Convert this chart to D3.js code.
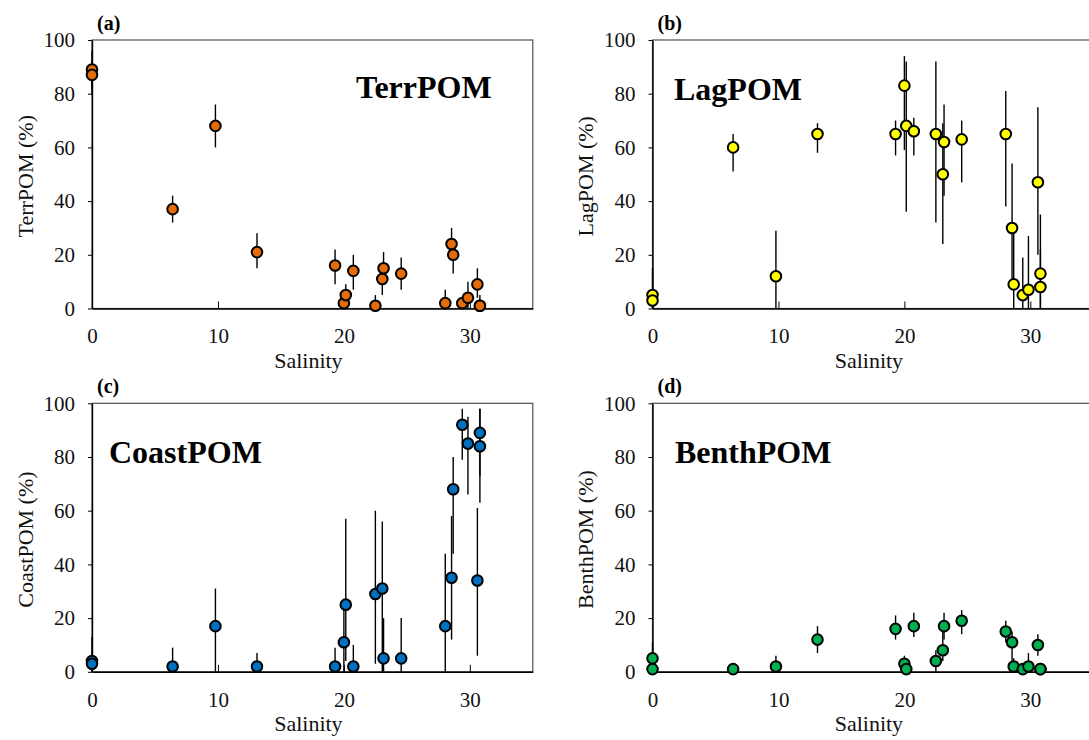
<!DOCTYPE html>
<html>
<head>
<meta charset="utf-8">
<script src="https://cdn.jsdelivr.net/npm/d3@7"></script>
<style>
html, body { margin: 0; padding: 0; background: #fff; overflow: hidden; }
svg { display: block; }
</style>
</head>
<body>
<svg id="chart" width="1089" height="740" font-family="'Liberation Serif', 'Times New Roman', serif"></svg>
<script>
// ---- data ----
const salinity = [0, 0, 6.4, 9.8, 13.1, 19.3, 20.0, 20.15, 20.75, 22.5, 23.05, 23.15, 24.55, 28.05, 28.55, 28.68, 29.4, 29.85, 30.6, 30.8, 30.8];

const terrPOM   = [89, 87, 37, 68, 21, 16, 2, 5, 14, 1, 11, 15, 13, 2, 24, 20, 2, 4, 9, 1, 1];
const terrLo    = [80, 82, 32, 60, 15, 9, 0, 2, 7, 0, 5, 9, 7, 0, 18, 13, 0, 0, 4, 0, 0];
const terrHi    = [96, 92, 42, 76, 28, 22, 4, 9, 20, 5, 17, 21, 19, 7, 30, 26, 4, 10, 15, 5, 3];

const lagPOM    = [5, 3, 60, 12, 65, 65, 83, 68, 66, 65, 50, 62, 63, 65, 30, 9, 5, 7, 47, 13, 8];
const lagLo     = [0, 0, 51, 0, 58, 57, 59, 36, 57, 32, 24, 42, 47, 38, 10, 0, 0, 0, 20, 0, 0];
const lagHi     = [15, 6, 65, 29, 69, 70, 94, 92, 71, 92, 69, 76, 70, 81, 54, 32, 19, 27, 75, 35, 22];

const coastPOM  = [4, 3, 2, 17, 2, 2, 11, 25, 2, 29, 31, 5, 5, 17, 35, 68, 92, 85, 34, 84, 89];
const coastLo   = [0, 0, 0, 0, 0, 0, 0, 4, 0, 3, 0, 0, 0, 0, 12, 44, 79, 66, 6, 63, 73];
const coastHi   = [13, 6, 9, 31, 7, 9, 27, 57, 10, 60, 56, 20, 20, 44, 58, 80, 98, 95, 61, 98, 98];

const benthPOM  = [5, 1, 1, 2, 12, 16, 3, 1, 17, 4, 8, 17, 19, 15, 11, 2, 1, 2, 10, 1, 1];
const benthLo   = [0, 0, 0, 0, 7, 12, 0, 0, 13, 0, 4, 12, 14, 11, 2, 0, 0, 0, 6, 0, 0];
const benthHi   = [11, 3, 3, 6, 17, 21, 6, 3, 22, 8, 15, 22, 23, 19, 15, 5, 3, 7, 14, 3, 3];

const xTicks = [0, 10, 20, 30];
const yTicks = [0, 20, 40, 60, 80, 100];
const panelNames = ["TerrPOM", "LagPOM", "CoastPOM", "BenthPOM"];
const panelLetters = ["(a)", "(b)", "(c)", "(d)"];
const xTitle = "Salinity";

// ---- layout ----
const FONT = "'Liberation Serif', 'Times New Roman', serif";
const svg = d3.select("#chart");
const panels = [
  { name: panelNames[0], letter: panelLetters[0], vals: terrPOM,  lo: terrLo,  hi: terrHi,  color: "#E46C0A", x0: 92,    y0: 40,    label: { x: 356, y: 87 } },
  { name: panelNames[1], letter: panelLetters[1], vals: lagPOM,   lo: lagLo,   hi: lagHi,   color: "#FFFF00", x0: 652.5, y0: 40,    label: { x: 674, y: 89 } },
  { name: panelNames[2], letter: panelLetters[2], vals: coastPOM, lo: coastLo, hi: coastHi, color: "#0070C0", x0: 92,    y0: 403.3, label: { x: 109, y: 452 } },
  { name: panelNames[3], letter: panelLetters[3], vals: benthPOM, lo: benthLo, hi: benthHi, color: "#00B050", x0: 652.5, y0: 403.3, label: { x: 675, y: 452 } }
];
const W = 440.8, H = 268.5;

panels.forEach(p => {
  const g = svg.append("g").attr("transform", `translate(${p.x0},${p.y0})`);
  const x = d3.scaleLinear().domain([0, 35]).range([0, W]);
  const y = d3.scaleLinear().domain([0, 100]).range([H, 0]);

  // frame (top/right)
  g.append("rect").attr("x", 0).attr("y", 0).attr("width", W).attr("height", H)
    .attr("fill", "none").attr("stroke", "#505050").attr("stroke-width", 1.2);

  // y axis
  const ya = g.append("g").call(d3.axisLeft(y).tickValues(yTicks).tickSizeInner(4).tickSizeOuter(0).tickPadding(13))
    .attr("font-family", FONT).attr("font-size", 21);
  ya.select(".domain").attr("stroke", "#000").attr("stroke-width", 1.4);
  ya.selectAll(".tick line").attr("stroke", "#000").attr("stroke-width", 1);
  ya.selectAll(".tick text").attr("fill", "#111");

  // x axis with inward ticks
  const xa = g.append("g").attr("transform", `translate(0,${H})`)
    .call(d3.axisBottom(x).tickValues(xTicks).tickSizeInner(-7).tickSizeOuter(0).tickPadding(20))
    .attr("font-family", FONT).attr("font-size", 21);
  xa.select(".domain").attr("stroke", "#000").attr("stroke-width", 1.4);
  xa.selectAll(".tick line").attr("stroke", "#000").attr("stroke-width", 1);
  xa.selectAll(".tick text").attr("fill", "#111");

  // axis titles
  g.append("text").attr("x", W / 2 - 4).attr("y", H + 52).attr("dy", "0.35em")
    .attr("text-anchor", "middle").attr("font-size", 22).attr("fill", "#111").text(xTitle);
  g.append("text").attr("transform", `translate(-67,${H / 2 + 2}) rotate(-90)`).attr("dy", "0.35em")
    .attr("text-anchor", "middle").attr("font-size", 22).attr("fill", "#111").text(p.name + " (%)");

  // panel letter
  g.append("text").attr("x", 5).attr("y", -10).attr("font-size", 20).attr("font-weight", "bold")
    .attr("fill", "#000").text(p.letter);

  // big series label
  svg.append("text").attr("x", p.label.x).attr("y", p.label.y).attr("dy", "0.35em")
    .attr("font-size", 32).attr("font-weight", "bold").attr("fill", "#000").text(p.name);

  const idx = d3.range(salinity.length);
  // error bars
  g.append("g").selectAll("line").data(idx).join("line")
    .attr("x1", i => x(salinity[i])).attr("x2", i => x(salinity[i]))
    .attr("y1", i => y(p.lo[i])).attr("y2", i => y(p.hi[i]))
    .attr("stroke", "#000").attr("stroke-width", 1.4);
  // points
  g.append("g").selectAll("circle").data(idx).join("circle")
    .attr("cx", i => x(salinity[i])).attr("cy", i => y(p.vals[i]))
    .attr("r", 5.3).attr("fill", p.color).attr("stroke", "#000").attr("stroke-width", 2);
});
</script>
</body>
</html>
